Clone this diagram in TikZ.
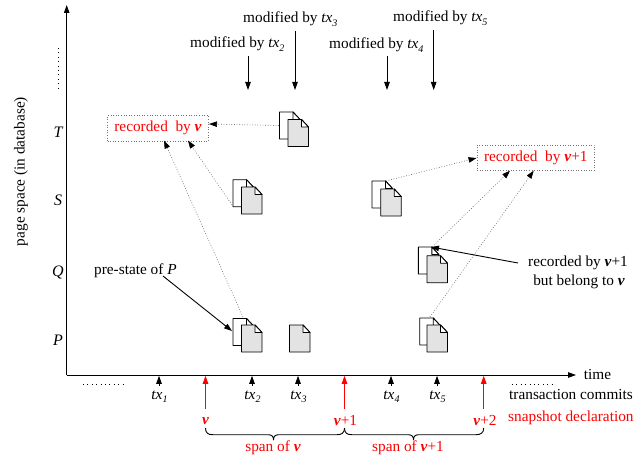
\documentclass[tikz,border=0pt]{standalone}
\usepackage{fontspec}
\setmainfont{Liberation Serif}
\usetikzlibrary{arrows.meta}
\definecolor{docgray}{HTML}{E3E3E3}
\newcommand{\vv}{\textit{\textbf{v}}}
\newcommand{\txn}[1]{\textit{tx}\raisebox{-3.5pt}{\fontsize{10}{10}\selectfont\textit{#1}}}
\newcommand{\onedoc}[3]{%
  \draw[docline,fill=#1] (#2,#3) -- ++(13.5,0) -- ++(7,7.5) -- ++(0,19.5) -- ++(-20.5,0) -- cycle;
  \draw[docline,fill=white] (#2+13.5,#3) -- ++(0,7.5) -- ++(7,0) -- cycle;}
\newcommand{\twodoc}[4]{\onedoc{white}{#1}{#2}\onedoc{docgray}{#3}{#4}}
\tikzset{
  docline/.style={line width=0.9pt,line join=round},
  lbl/.style={inner sep=0pt,font=\fontsize{15.3}{17}\selectfont},
  redlbl/.style={lbl,text=red},
  pagelbl/.style={inner sep=0pt,font=\fontsize{16}{17}\selectfont\itshape},
  axisline/.style={line width=0.9pt,-{Triangle[length=8pt,width=5.5pt]}},
  tick/.style={line width=0.9pt,-{Triangle[length=8pt,width=5.5pt]}},
  redtick/.style={line width=0.9pt,red,-{Triangle[length=8pt,width=5.5pt]}},
  solidarrow/.style={line width=0.9pt,-{Triangle[length=8pt,width=5.5pt]}},
  dotarrow/.style={line width=0.6pt,dash pattern=on 0.8pt off 1.8pt,draw=black!60,-{Triangle[length=8pt,width=5.5pt,color=black,fill=black]}},
  recbox/.style={draw=black!55,line width=0.6pt,dash pattern=on 0.8pt off 1.8pt,minimum height=25.5pt,inner sep=0pt,text=red,font=\fontsize{15.3}{17}\selectfont},
  dots/.style={line width=0.8pt,dash pattern=on 1pt off 3.4pt},
  bracket/.style={line width=0.9pt,line join=round},
}
\begin{document}
\begin{tikzpicture}[x=1pt,y=-1pt]
\useasboundingbox (0,0) rectangle (644,457);
% axes
\coordinate (origin) at (66.7,375);
\coordinate (ytop) at (66.7,5);
\coordinate (xend) at (576,375);
\draw[axisline] (origin) -- (ytop);
\draw[axisline] (origin) -- (xend);
% axis labels
\node[lbl,rotate=90] (ylabel) at (21,171.5) {page space (in database)};
\node[lbl,anchor=west] (timelabel) at (583.7,375) {time};
\node[pagelbl] (T) at (58,132) {T};
\node[pagelbl] (S) at (58,200) {S};
\node[pagelbl] (Q) at (58,272) {Q};
\node[pagelbl] (P) at (58,340) {P};
% dotted runs
\coordinate (da) at (58,48); \coordinate (db) at (58,88);
\coordinate (dc) at (83,384); \coordinate (dd) at (123,384);
\coordinate (de) at (512,384); \coordinate (df) at (552,384);
\draw[dots] (da) -- (db);
\draw[dots] (dc) -- (dd);
\draw[dots] (de) -- (df);
% documents
\twodoc{279.5}{112}{288}{119.5}
\twodoc{233}{179.7}{241.5}{187}
\twodoc{233}{318.5}{241.5}{325}
\onedoc{docgray}{289.5}{325}
\twodoc{372}{181}{380.7}{189}
\twodoc{418.3}{247}{427}{255.7}
\twodoc{419.7}{318}{427}{325}
% recorded boxes
\node[recbox,minimum width=101pt] (recv) at (158,128.2) {recorded\ \ by \vv};
\node[recbox,minimum width=117.5pt] (recw) at (535.8,157.6) {recorded\ \ by \vv+1};
% dotted connectors
\coordinate (dT) at (279,125.5); \coordinate (dS) at (232,205); \coordinate (dP) at (243,317);
\coordinate (eS) at (386,181); \coordinate (eQ) at (432,247); \coordinate (eP) at (430,317);
\coordinate (rv1) at (209,124); \coordinate (rv2) at (188,140.5); \coordinate (rv3) at (164,140.5);
\coordinate (rw1) at (476.5,158); \coordinate (rw2) at (510,170.7); \coordinate (rw3) at (533.7,170.7);
\draw[dotarrow] (dT) -- (rv1);
\draw[dotarrow] (dS) -- (rv2);
\draw[dotarrow] (dP) -- (rv3);
\draw[dotarrow] (eS) -- (rw1);
\draw[dotarrow] (eQ) -- (rw2);
\draw[dotarrow] (eP) -- (rw3);
% modified-by labels
\node[lbl,anchor=west] (m2) at (190,44) {modified by \txn{2}};
\node[lbl,anchor=west] (m3) at (243,19) {modified by \txn{3}};
\node[lbl,anchor=west] (m4) at (329,45) {modified by \txn{4}};
\node[lbl,anchor=west] (m5) at (393,18) {modified by \txn{5}};
\coordinate (a2) at (248,56); \coordinate (b2) at (248,90);
\coordinate (a3) at (295,31); \coordinate (b3) at (295,90);
\coordinate (a4) at (387,56); \coordinate (b4) at (387,90);
\coordinate (a5) at (433.7,30); \coordinate (b5) at (433.7,90);
\draw[solidarrow] (a2) -- (b2);
\draw[solidarrow] (a3) -- (b3);
\draw[solidarrow] (a4) -- (b4);
\draw[solidarrow] (a5) -- (b5);
% annotations
\node[lbl,anchor=west] (pre) at (94,271) {pre-state of \textit{P}};
\coordinate (preS) at (163,276); \coordinate (preE) at (232,331);
\draw[solidarrow] (preS) -- (preE);
\node[lbl] (rec1) at (578,263) {recorded by \vv+1};
\node[lbl] (rec2) at (579,282) {but belong to \vv};
\coordinate (recS) at (518,263); \coordinate (recE) at (431,247);
\draw[solidarrow] (recS) -- (recE);
% tx ticks
\foreach \n/\x in {1/159,2/252,3/298,4/391,5/437}{
  \coordinate (tb\n) at (\x,386);
  \coordinate (tt\n) at (\x,375.8);
  \draw[tick] (tb\n) -- (tt\n);
  \node[lbl] (tx\n) at (\x+0.5,396.5) {\txn{\n}};
}
% snapshot ticks
\foreach \n/\x in {0/205.5,1/344.5,2/483.7}{
  \coordinate (sb\n) at (\x,409);
  \coordinate (st\n) at (\x,375.8);
  \draw[redtick] (sb\n) -- (st\n);
}
\node[redlbl] (v0) at (205.5,421) {\vv};
\node[redlbl] (v1) at (345.5,421) {\vv+1};
\node[redlbl] (v2) at (485,421) {\vv+2};
\node[lbl,anchor=west] (tc) at (509,395) {transaction commits};
\node[redlbl,anchor=west] (sd) at (508,418) {snapshot declaration};
% braces
\coordinate (ba) at (205.5,428); \coordinate (bb) at (273.5,440); \coordinate (bc) at (344.5,428);
\coordinate (bd) at (344.5,428); \coordinate (be) at (413.5,440); \coordinate (bf) at (483.7,428);
\draw[bracket] (ba) .. controls (205.5,433) and (208,434.7) .. (213,434.7) -- (268,434.7)
   .. controls (271.5,434.7) and (273.5,436) .. (bb) .. controls (273.5,436) and (275.5,434.7) .. (279,434.7)
   -- (337,434.7) .. controls (341.5,434.7) and (344.5,433) .. (bc);
\draw[bracket] (bd) .. controls (344.5,433) and (347,434.7) .. (352,434.7) -- (408,434.7)
   .. controls (411.5,434.7) and (413.5,436) .. (be) .. controls (413.5,436) and (415.5,434.7) .. (419,434.7)
   -- (476,434.7) .. controls (480.5,434.7) and (483.7,433) .. (bf);
\node[redlbl] (sp1) at (273,448) {span of \vv};
\node[redlbl] (sp2) at (408,448) {span of \vv+1};
\end{tikzpicture}
\end{document}
